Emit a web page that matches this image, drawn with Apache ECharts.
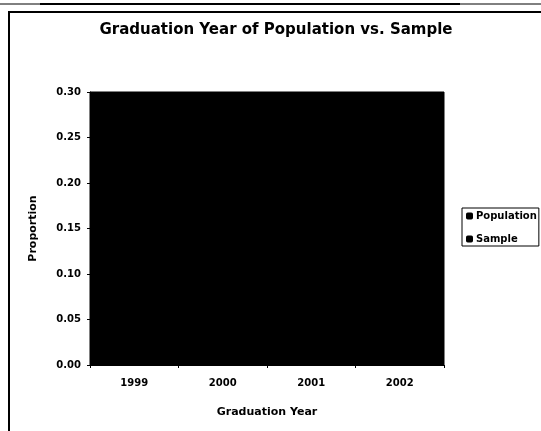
<!DOCTYPE html>
<html><head><meta charset="utf-8">
<script src="https://cdn.jsdelivr.net/npm/echarts@6/dist/echarts.min.js"></script>
<style>html,body{margin:0;padding:0;background:#fff}#c{width:541px;height:431px}</style>
</head><body><div id="c"></div>
<script>
const categories = ['1999', '2000', '2001', '2002'];
const population = [0.28, 0.26, 0.24, 0.22];
const sample = [0.27, 0.27, 0.25, 0.21];
const yTicks = [0, 0.05, 0.10, 0.15, 0.20, 0.25, 0.30];

const font = '"DejaVu Sans", Arial, sans-serif';
const chart = echarts.init(document.getElementById('c'), null, {renderer: 'canvas'});
chart.setOption({
  backgroundColor: '#fff',
  animation: false,
  title: {
    text: 'Graduation Year of Population vs. Sample',
    left: 271, top: 18, textAlign: 'center',
    textStyle: {fontFamily: font, fontWeight: 'bold', fontSize: 15, color: '#000'}
  },
  legend: {
    orient: 'vertical', left: 462, top: 208,
    icon: 'roundRect', itemWidth: 7, itemHeight: 7, itemGap: 13,
    borderColor: '#000', borderWidth: 1, padding: [3, 2, 2, 4],
    textStyle: {fontFamily: font, fontWeight: 'bold', fontSize: 10, color: '#000', padding: [0, 0, 0, -2]},
    data: ['Population', 'Sample']
  },
  grid: {left: 90, right: 97, top: 92, bottom: 66, show: true, backgroundColor: '#000', borderColor: '#000', borderWidth: 1},
  xAxis: {
    type: 'category', data: categories,
    name: 'Graduation Year', nameLocation: 'middle', nameGap: 42,
    nameTextStyle: {fontFamily: font, fontWeight: 'bold', fontSize: 11, color: '#000'},
    axisLine: {lineStyle: {color: '#000', width: 1}},
    axisTick: {show: true, length: 3, lineStyle: {color: '#000'}},
    axisLabel: {fontFamily: font, fontWeight: 'bold', fontSize: 10, color: '#000', margin: 13}
  },
  yAxis: {
    type: 'value', min: 0, max: 0.30, interval: 0.05,
    name: 'Proportion', nameLocation: 'middle', nameGap: 51,
    nameTextStyle: {fontFamily: font, fontWeight: 'bold', fontSize: 11, color: '#000'},
    axisLine: {show: true, lineStyle: {color: '#000', width: 1}},
    axisTick: {show: true, length: 3, lineStyle: {color: '#000'}},
    splitLine: {show: false},
    axisLabel: {fontFamily: font, fontWeight: 'bold', fontSize: 10, color: '#000', margin: 9,
      formatter: v => v.toFixed(2)}
  },
  series: [
    {name: 'Population', type: 'bar', data: population, itemStyle: {color: '#000'}, barGap: '0%'},
    {name: 'Sample', type: 'bar', data: sample, itemStyle: {color: '#000'}}
  ],
  graphic: [
    {type: 'line', shape: {x1: 0, y1: 4, x2: 541, y2: 4}, style: {stroke: '#000', lineWidth: 1}},
    {type: 'line', shape: {x1: 40, y1: 4, x2: 460, y2: 4}, style: {stroke: '#000', lineWidth: 2}},
    {type: 'line', shape: {x1: 8, y1: 12, x2: 541, y2: 12}, style: {stroke: '#000', lineWidth: 2}},
    {type: 'line', shape: {x1: 9, y1: 12, x2: 9, y2: 431}, style: {stroke: '#000', lineWidth: 2}}
  ]
});
</script></body></html>
